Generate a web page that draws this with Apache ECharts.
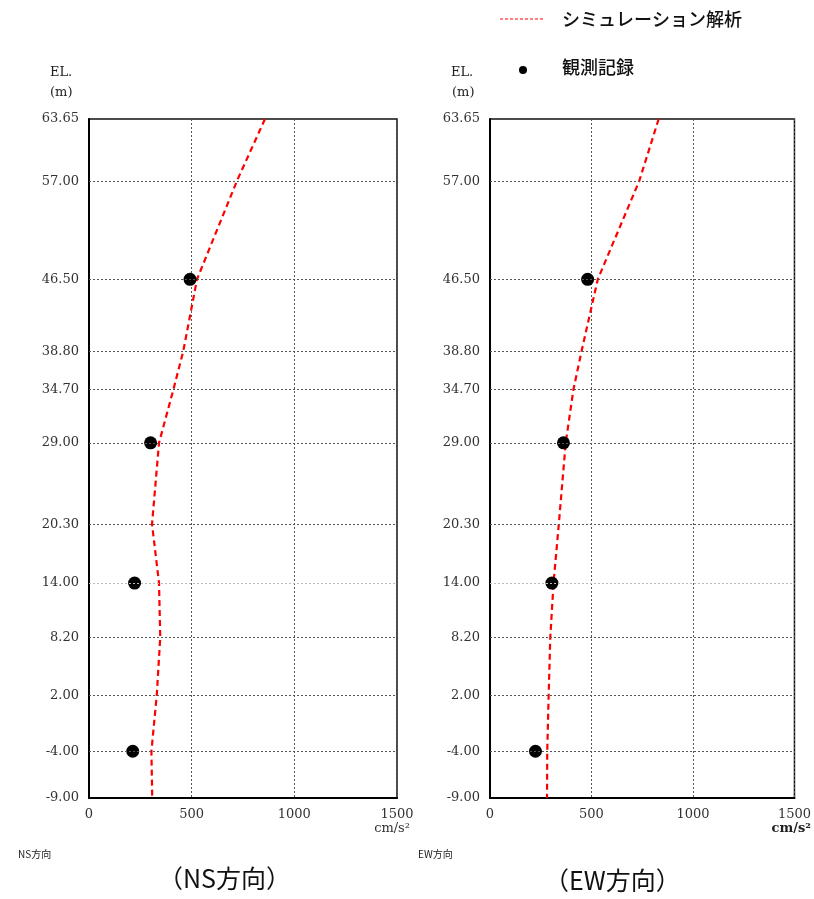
<!DOCTYPE html>
<html><head><meta charset="utf-8">
<script src="https://cdn.jsdelivr.net/npm/echarts@6/dist/echarts.min.js"></script>
<style>html,body{margin:0;padding:0;background:#fff}#c{width:814px;height:899px}</style>
</head><body><div id="c"></div>
<script>
const yTicks = [63.65, 57.00, 46.50, 38.80, 34.70, 29.00, 20.30, 14.00, 8.20, 2.00, -4.00, -9.00];
const simLevels = [63.65, 57.00, 46.50, 38.80, 34.70, 29.00, 20.30, 14.00, 8.20, 2.00, -4.00, -9.00];
const simNS = [857, 720, 526, 459, 411, 341, 307, 341, 347, 330, 304, 308];
const simEW = [831, 735, 531, 451, 411, 373, 339, 313, 297, 289, 282, 281];
const obsLevels = [46.50, 29.00, 14.00, -4.00];
const obsNS = [492, 300, 222, 213];
const obsEW = [481, 362, 305, 224];
const xTicks = [0, 500, 1000, 1500];
const simName = 'シミュレーション解析';
const obsName = '観測記録';

const numFont = 'DejaVu Serif';
const jpFont = 'Noto Sans CJK JP';
const chart = echarts.init(document.getElementById('c'));

function pairs(xs, ys){ return xs.map((v,i)=>[v, ys[i]]); }
const innerTicks = yTicks.filter(t => t !== yTicks[0] && t !== yTicks[yTicks.length-1]);
function gridMark(){
  return {
    silent: true, symbol: 'none', animation: false,
    label: {show: false},
    data: innerTicks.map(t => ({yAxis: t, lineStyle: {color: t === 14.00 ? '#bbb' : '#555', type: [2,2], width: 1}}))
  };
}
const grids = [{left: 89, top: 119, width: 308, height: 679}, {left: 490, top: 119, width: 308, height: 679}];
function xAx(i){
  return {gridIndex: i, type: 'value', min: 0, max: 1500, interval: 500,
    axisLine: {show: true, onZero: false, lineStyle: {color: '#000', width: 2}},
    axisTick: {show: false},
    axisLabel: {color: '#333', fontFamily: numFont, fontSize: 13, margin: 10, customValues: xTicks, formatter: v => String(v)},
    splitLine: {show: true, lineStyle: {color: '#555', type: [2,2], width: 1}}};
}
function yAx(i){
  return {gridIndex: i, type: 'value', min: -9, max: 63.65,
    axisLine: {show: true, onZero: false, lineStyle: {color: '#000', width: 2}},
    axisTick: {show: false},
    axisLabel: {color: '#333', fontFamily: numFont, fontSize: 13, margin: 10, customValues: yTicks, formatter: v => v.toFixed(2)},
    splitLine: {show: false}};
}
const sims = [simNS, simEW], obs = [obsNS, obsEW];
const series = [];
[0,1].forEach(i => {
  series.push({type: 'line', name: simName, xAxisIndex: i, yAxisIndex: i, data: pairs(sims[i], simLevels),
    symbol: 'none', lineStyle: {color: '#ff0000', width: 2.2, type: [6,4]}, z: 3, markLine: gridMark()});
  series.push({type: 'scatter', name: obsName, xAxisIndex: i, yAxisIndex: i, data: pairs(obs[i], obsLevels),
    symbol: 'circle', symbolSize: 13, itemStyle: {color: '#000', opacity: 1}, z: 4});
});
const T = (x, y, text, size, font, extra) => Object.assign({type: 'text', left: x, top: y, style: {text, fontSize: size, fontFamily: font, fill: '#222'}}, extra || {});
chart.setOption({
  animation: false,
  grid: grids.map(g => Object.assign({show: true, borderColor: '#111', borderWidth: 1.5}, g)),
  xAxis: [xAx(0), xAx(1)],
  yAxis: [yAx(0), yAx(1)],
  series,
  graphic: [
    {type: 'line', shape: {x1: 500, y1: 19, x2: 543, y2: 19}, style: {stroke: '#ff0000', lineWidth: 1, lineDash: [3,2]}},
    {type: 'circle', shape: {cx: 523, cy: 70, r: 4}, style: {fill: '#000'}},
    T(562, 10, simName, 18, jpFont, {style: {text: simName, fontSize: 18, fontFamily: jpFont, fill: '#111', fontWeight: 500}}),
    T(562, 58, obsName, 18, jpFont, {style: {text: obsName, fontSize: 18, fontFamily: jpFont, fill: '#111', fontWeight: 500}}),
    T(50, 66, 'EL.', 13, numFont), T(50, 86, '(m)', 13, numFont),
    T(451, 66, 'EL.', 13, numFont), T(452, 86, '(m)', 13, numFont),
    {type: 'text', right: 814-410, top: 822, style: {text: 'cm/s²', fontSize: 13, fontFamily: numFont, fill: '#333'}},
    {type: 'text', right: 814-811, top: 822, style: {text: 'cm/s²', fontSize: 13, fontFamily: numFont, fill: '#222', fontWeight: 'bold'}},
    T(18, 849, 'NS方向', 10, jpFont), T(418, 849, 'EW方向', 10, jpFont),
    T(158, 866, '（NS方向）', 25, jpFont, {style: {text: '（NS方向）', fontSize: 25, fontFamily: jpFont, fill: '#111'}}),
    T(544, 868, '（EW方向）', 25, jpFont, {style: {text: '（EW方向）', fontSize: 25, fontFamily: jpFont, fill: '#111'}})
  ]
});
</script></body></html>
